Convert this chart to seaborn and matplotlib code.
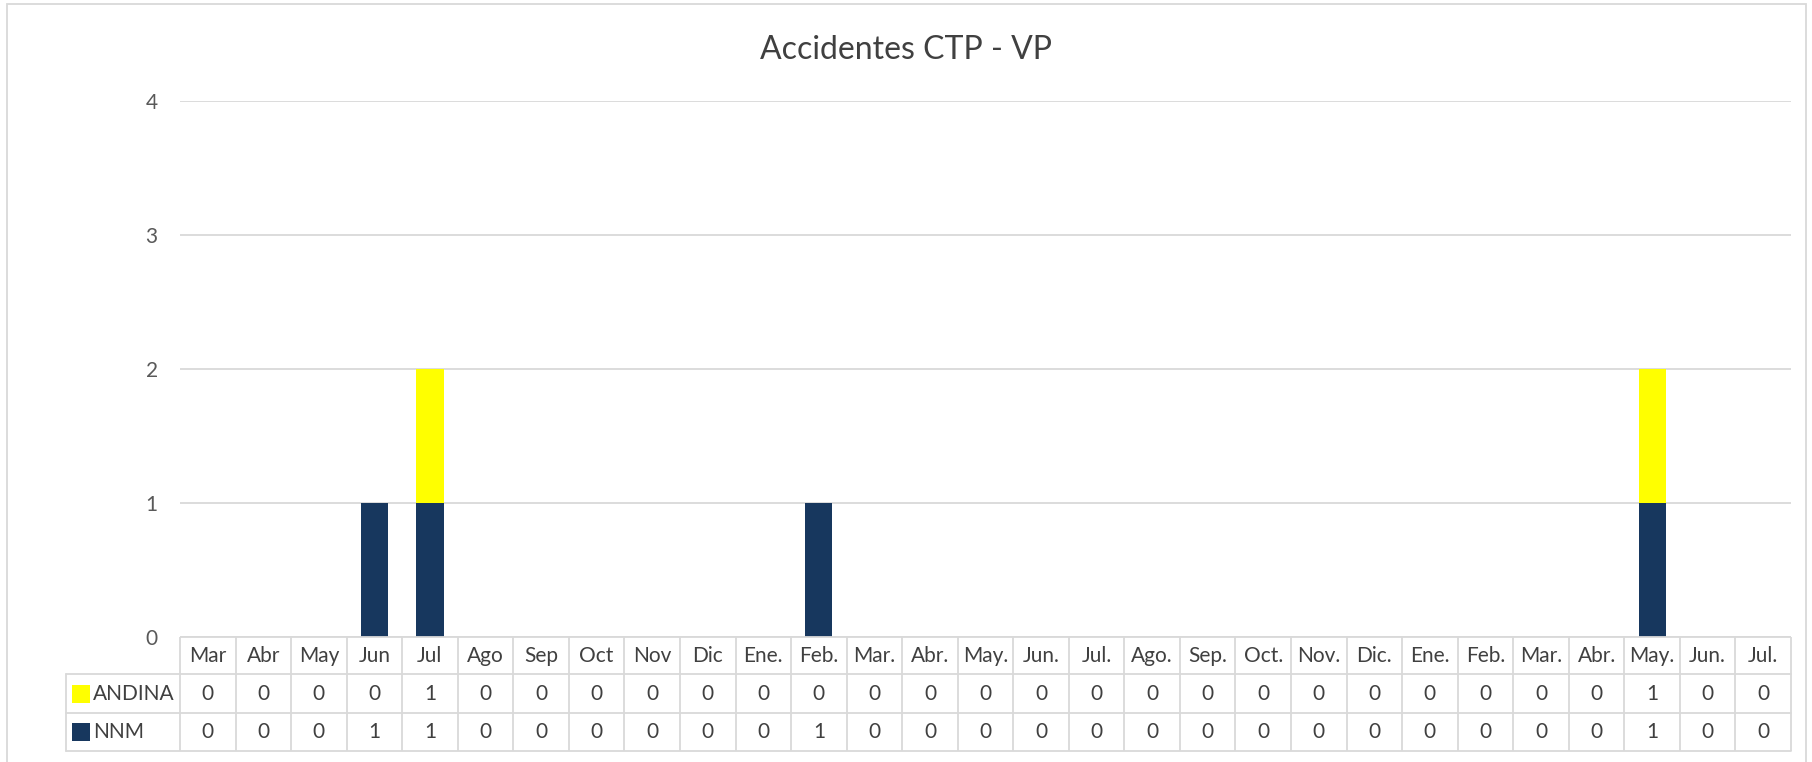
import numpy as np
import pandas as pd
import seaborn as sns
from matplotlib import pyplot as plt
from matplotlib.patches import Rectangle

# month labels (two cycles, second one with a dot)
months = ["Mar", "Abr", "May", "Jun", "Jul", "Ago", "Sep", "Oct", "Nov", "Dic",
          "Ene.", "Feb.", "Mar.", "Abr.", "May.", "Jun.", "Jul.", "Ago.", "Sep.",
          "Oct.", "Nov.", "Dic.", "Ene.", "Feb.", "Mar.", "Abr.", "May.", "Jun.", "Jul."]
andina = [0, 0, 0, 0, 1, 0, 0, 0, 0, 0, 0, 0, 0, 0, 0, 0, 0, 0, 0,
          0, 0, 0, 0, 0, 0, 0, 1, 0, 0]
nnm = [0, 0, 0, 1, 1, 0, 0, 0, 0, 0, 0, 1, 0, 0, 0, 0, 0, 0, 0,
       0, 0, 0, 0, 0, 0, 0, 1, 0, 0]

series = [("ANDINA", andina, "#FFFF00"), ("NNM", nnm, "#17375E")]

FONT = "Lato"
GRID = "#D9D9D9"
TXT = "#404040"

sns.set_style("white")
plt.rcParams["font.family"] = [FONT, "DejaVu Sans"]

df = pd.DataFrame({"pos": range(len(months)), "andina": andina, "nnm": nnm})
df["total"] = df["andina"] + df["nnm"]

fig = plt.figure(figsize=(18.12, 7.62), dpi=100)
ax = fig.add_axes([180 / 1812, 1 - 637 / 762, (1791 - 180) / 1812, 536 / 762])

# stacked bars: total in yellow, NNM drawn over it
sns.barplot(data=df, x="pos", y="total", color="#FFFF00", width=0.49,
            linewidth=0, saturation=1, ax=ax)
sns.barplot(data=df, x="pos", y="nnm", color="#17375E", width=0.49,
            linewidth=0, saturation=1, ax=ax)

ax.set_xlim(-0.5, len(months) - 0.5)
ax.set_ylim(0, 4)
ax.set_yticks([0, 1, 2, 3, 4])
ax.set_xticks([])
ax.set_xlabel("")
ax.set_ylabel("")
ax.tick_params(axis="y", length=0, pad=16, labelsize=15, labelcolor="#595959")
for s in ax.spines.values():
    s.set_visible(False)
ax.yaxis.grid(True, color=GRID, linewidth=1.3)
ax.set_axisbelow(True)

# data table under the axis
trans = ax.get_xaxis_transform()
ax_h = 536.0
row_y = [-(655.5 - 637) / ax_h, -(693.5 - 637) / ax_h, -(732 - 637) / ax_h]
lines_y = [0, -37 / ax_h, -76 / ax_h, -114 / ax_h]
left_ax = (66 - 180) / 1611

for i, m in enumerate(months):
    ax.text(i, row_y[0], m, transform=trans, ha="center", va="center",
            fontsize=15, color=TXT, clip_on=False)
    for r, (name, vals, col) in enumerate(series):
        ax.text(i, row_y[r + 1], str(vals[i]), transform=trans, ha="center",
                va="center", fontsize=15, color=TXT, clip_on=False)

ax.hlines(lines_y[0], -0.5, len(months) - 0.5, transform=trans, color=GRID,
          linewidth=1.3, clip_on=False)
for y in lines_y[1:]:
    ax.plot([left_ax, 1], [y, y], transform=ax.transAxes, color=GRID,
            linewidth=1.3, clip_on=False)
ax.vlines(np.arange(len(months) + 1) - 0.5, lines_y[-1], 0, transform=trans,
          color=GRID, linewidth=1.3, clip_on=False)
ax.plot([left_ax, left_ax], [lines_y[1], lines_y[-1]], transform=ax.transAxes,
        color=GRID, linewidth=1.3, clip_on=False)

# legend keys in the row labels
sw_w = 18 / 1611
sw_h = 18 / ax_h
for r, (name, vals, col) in enumerate(series):
    ax.add_patch(Rectangle(((72 - 180) / 1611, row_y[r + 1] - sw_h / 2), sw_w, sw_h,
                           transform=ax.transAxes, facecolor=col, edgecolor="none",
                           clip_on=False))
    ax.text((93 - 180) / 1611, row_y[r + 1], name, transform=ax.transAxes,
            ha="left", va="center", fontsize=15, color=TXT, clip_on=False)

fig.text(0.5, 1 - 59 / 762, "Accidentes CTP - VP", ha="center", va="baseline",
         fontsize=23, color=TXT)

# chart frame
fig.patches.append(Rectangle((7 / 1812, -0.05), (1806 - 7) / 1812, 1.05 - 4 / 762,
                             transform=fig.transFigure, facecolor="none",
                             edgecolor=GRID, linewidth=1.3))

fig.savefig("out.png", dpi=100)
